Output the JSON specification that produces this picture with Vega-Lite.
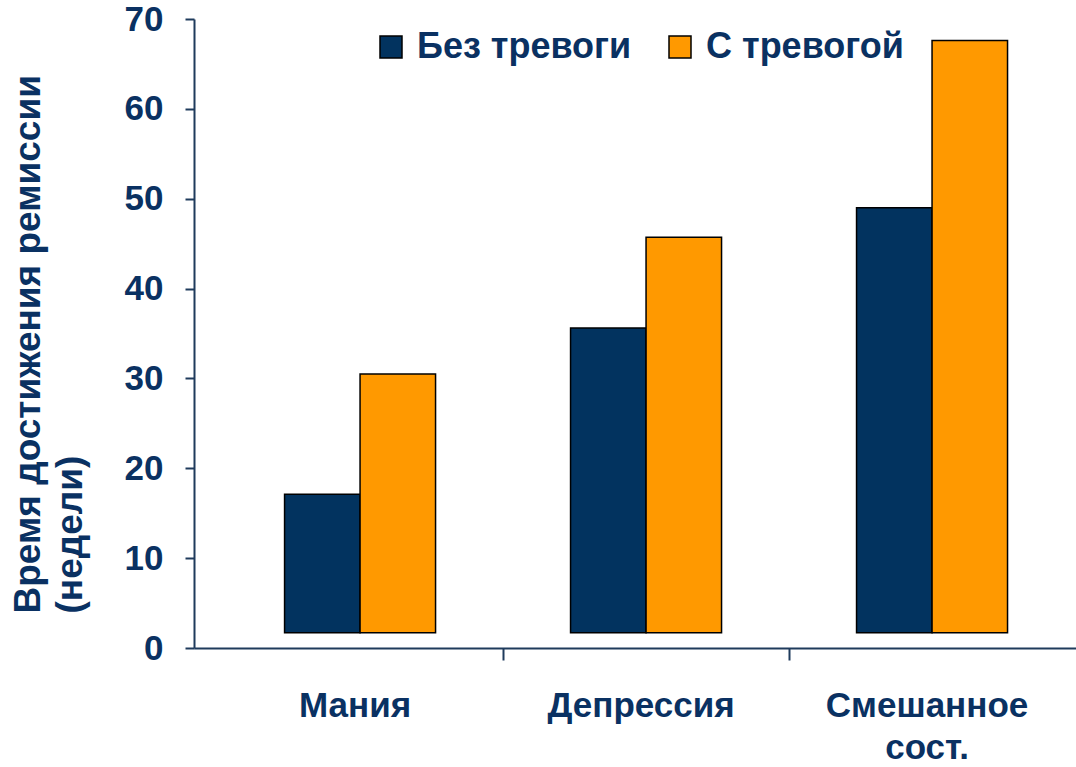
{
  "$schema": "https://vega.github.io/schema/vega-lite/v6.json",
  "autosize": {"type": "none"},
  "padding": {"left": 194, "top": 19, "right": 0, "bottom": 119},
  "width": 882,
  "height": 629,
  "background": "white",
  "config": {"view": {"stroke": null}, "font": "Liberation Sans"},
  "data": {
    "values": [
      {"cat": "Мания", "group": "Без тревоги", "value": 17.1},
      {"cat": "Мания", "group": "С тревогой", "value": 30.5},
      {"cat": "Депрессия", "group": "Без тревоги", "value": 35.6},
      {"cat": "Депрессия", "group": "С тревогой", "value": 45.7},
      {"cat": "Смешанное сост.", "group": "Без тревоги", "value": 49.0},
      {"cat": "Смешанное сост.", "group": "С тревогой", "value": 67.6}
    ]
  },
  "mark": {"type": "bar", "stroke": "black", "strokeWidth": 1.5},
  "encoding": {
    "x": {
      "field": "cat",
      "type": "nominal",
      "sort": ["Мания", "Депрессия", "Смешанное сост."],
      "scale": {"paddingInner": 0, "paddingOuter": 0.042, "align": 0.96},
      "axis": {
        "title": null,
        "domainColor": "#1f3b5c",
        "domainWidth": 2,
        "tickColor": {"condition": {"test": "datum.index === 1", "value": "transparent"}, "value": "#1f3b5c"},
        "tickWidth": 2,
        "tickSize": 12,
        "bandPosition": 1,
        "labelFont": "Liberation Sans",
        "labelFontSize": 35,
        "labelFontWeight": "bold",
        "labelColor": "#0a3162",
        "labelPadding": 28,
        "labelAngle": 0,
        "labelBaseline": "top",
        "labelExpr": "datum.value === 'Смешанное сост.' ? ['Смешанное', 'сост.'] : datum.label",
        "labelLineHeight": 42,
        "labelOffset": -5,
        "labelLimit": 0
      }
    },
    "xOffset": {
      "field": "group",
      "type": "nominal",
      "sort": ["Без тревоги", "С тревогой"],
      "scale": {"paddingInner": 0, "paddingOuter": 0.894}
    },
    "y": {
      "field": "value",
      "type": "quantitative",
      "scale": {"domain": [0, 70], "nice": false},
      "axis": {
        "title": ["Время достижения ремиссии", "(недели)"],
        "values": [0, 10, 20, 30, 40, 50, 60, 70],
        "grid": false,
        "domainColor": "#1f3b5c",
        "domainWidth": 2,
        "tickColor": "#1f3b5c",
        "tickWidth": 2,
        "tickSize": 9,
        "labelFont": "Liberation Sans",
        "labelFontSize": 35,
        "labelFontWeight": "bold",
        "labelColor": "#0a3162",
        "labelPadding": 22,
        "titleFont": "Liberation Sans",
        "titleFontSize": 37,
        "titleFontWeight": "bold",
        "titleColor": "#0a3162",
        "titleAngle": 270,
        "titleAlign": "left",
        "titleBaseline": "top",
        "titleX": -184,
        "titleY": 594,
        "titleLineHeight": 42,
        "titleLimit": 0
      }
    },
    "y2": {"datum": 1.7},
    "color": {
      "field": "group",
      "type": "nominal",
      "sort": ["Без тревоги", "С тревогой"],
      "scale": {"domain": ["Без тревоги", "С тревогой"], "range": ["#02335f", "#ff9900"]},
      "legend": {
        "orient": "none",
        "legendX": 179,
        "legendY": 10,
        "direction": "horizontal",
        "title": null,
        "symbolType": "square",
        "symbolSize": 484,
        "symbolStrokeColor": "black",
        "symbolStrokeWidth": 1.5,
        "symbolOpacity": 1,
        "labelFont": "Liberation Sans",
        "labelFontSize": 36,
        "labelFontWeight": "bold",
        "labelColor": "#0a3162",
        "labelOffset": 8,
        "columnPadding": 30,
        "labelLimit": 0
      }
    }
  }
}
